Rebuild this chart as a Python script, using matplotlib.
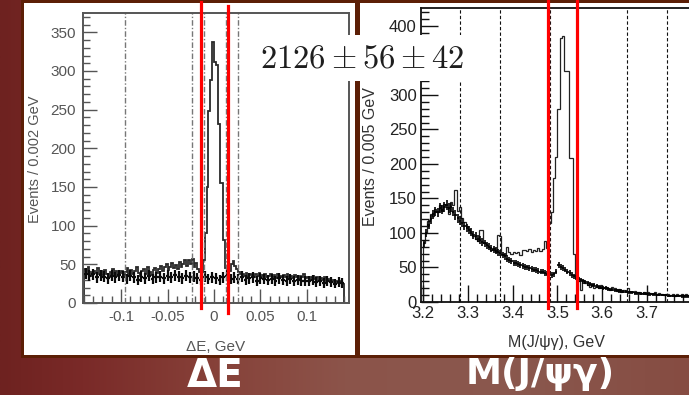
import numpy as np
import matplotlib
matplotlib.use("Agg")
import matplotlib.pyplot as plt
from matplotlib.patches import Rectangle
from matplotlib.ticker import MultipleLocator

plt.rcParams["mathtext.fontset"] = "cm"
plt.rcParams["font.family"] = ["Liberation Sans", "DejaVu Sans"]

# ---------------- data: left panel (Delta E, 0.002 GeV bins) ----------------
de_start, de_width = -0.140, 0.002
de_hist = [
    44, 38, 46, 40, 35, 42, 39, 45, 37, 41, 36, 43, 38, 33, 40, 44, 37, 41, 35, 39,
    42, 36, 40, 45, 38, 43, 37, 41, 46, 39, 35, 42, 44, 38, 47, 40, 36, 43, 45, 39,
    44, 48, 41, 46, 50, 43, 47, 52, 45, 49, 44, 53, 47, 51, 56,
    48, 55, 50, 57, 46, 52, 44, 40,
    40, 55, 90, 150, 248, 288, 337, 312, 308, 232, 155, 155, 82, 45,
    38, 42, 50, 54, 48, 44, 40, 38,
    37, 35, 39, 34, 38, 36, 33, 37, 35, 39, 34, 36, 38, 33, 35, 37, 34, 36, 32, 38, 35, 33, 36, 34, 37,
    33, 35, 32, 36, 34, 31, 35, 33, 37, 32, 34, 30, 33, 35, 31, 34, 29, 32, 30, 33, 28, 31, 29, 27, 30, 28, 26, 29, 27, 25,
]
de_pts_width = 0.004
de_pts = [
    38, 35, 37, 33, 36, 34, 32, 35, 33, 36,
    34, 31, 35, 33, 30, 34, 32, 35, 31, 33,
    34, 32, 35, 33, 36, 34, 32, 35, 33, 34,
    32, 30, 34, 31, 33, 32, 30, 33, 35, 31,
    33, 31, 34, 30, 32, 33, 29, 32, 31, 30,
    31, 29, 32, 30, 28, 31, 29, 30, 28, 29,
    28, 30, 27, 29, 26, 28, 27, 25, 27, 26,
]
de_dashed = [-0.096, -0.0237, -0.0108, 0.0129, 0.0258]
de_window = [-0.014, 0.015]
de_ticks = [-0.1, -0.05, 0, 0.05, 0.1]
de_ticklabels = ["-0.1", "-0.05", "0", "0.05", "0.1"]

# ---------------- data: right panel (M(J/psi gamma), 0.005 GeV bins) ----------------
m_start, m_width = 3.200, 0.005
m_hist = [
    85, 100, 118, 128, 125, 135, 130, 140, 132, 142,
    138, 128, 145, 140, 163, 132, 138, 122, 116, 110,
    106, 100, 96, 92, 88, 104, 104, 86, 82, 80,
    76, 78, 72, 97, 95, 70, 68, 80, 72, 70,
    72, 71, 73, 68, 76, 76, 74, 77, 73, 76,
    74, 78, 74, 77, 88, 78, 115, 130, 180, 210,
    280, 383, 385, 335, 335, 208, 208, 70, 38, 30,
    18, 32, 28, 25, 22, 24, 20, 22, 20, 24,
    20, 22, 20, 18, 22, 20, 16, 19, 15, 18,
    16, 20, 15, 14, 16, 14, 15, 13, 15, 12,
    14, 13, 12, 14, 11, 13, 12, 10, 12, 11,
    10, 12, 9, 11, 10, 12, 10, 11, 10, 10,
]
m_pts = [
    85, 100, 112, 120, 127, 131, 130, 136, 134, 138,
    140, 136, 137, 131, 126, 121, 118, 115, 110, 107,
    104, 101, 97, 96, 92, 90, 87, 85, 82, 80,
    78, 76, 74, 72, 71, 68, 66, 63, 61, 59,
    57, 56, 55, 53, 52, 51, 50, 49, 48, 47,
    46, 45, 44, 44, 42, 41, 41, 39, 40, 44,
    53, 51, 49, 47, 44, 42, 39, 37, 35, 33,
    32, 30, 29, 27, 26, 25, 24, 23, 22, 21,
    20, 20, 19, 18, 18, 17, 17, 16, 16, 15,
    15, 14, 14, 14, 13, 13, 13, 12, 12, 12,
    11, 11, 11, 11, 10, 10, 10, 10, 10, 9,
    9, 9, 9, 9, 9, 8, 8, 8, 8, 8,
]
m_dashed = [3.283, 3.372, 3.483, 3.544, 3.655, 3.745]
m_window = [3.479, 3.5437]
m_ticks = [3.2, 3.3, 3.4, 3.5, 3.6, 3.7]
m_ticklabels = ["3.2", "3.3", "3.4", "3.5", "3.6", "3.7"]

yield_text = r"$2126\pm56\pm42$"
left_label = "ΔE"
right_label = "M(J/ψγ)"

# ---------------- figure ----------------
W, H = 689, 395
fig = plt.figure(figsize=(W / 100, H / 100), dpi=100)

# background (pixel coordinates)
bg = fig.add_axes([0, 0, 1, 1], zorder=-10)
bg.set_xlim(0, W)
bg.set_ylim(H, 0)
bg.axis("off")
stops = np.array([0.0, 0.12, 0.3, 0.5, 0.75, 1.0])
cols = np.array([(110, 34, 32), (122, 42, 40), (134, 64, 56), (140, 84, 74), (138, 88, 78), (134, 76, 66)]) / 255
xs = np.linspace(0, 1, 400)
grad = np.stack([np.interp(xs, stops, cols[:, i]) for i in range(3)], axis=-1)[None, :, :]
bg.imshow(grad, extent=[0, W, H, 0], aspect="auto", interpolation="bilinear")
brown = "#5c1f06"
bg.add_patch(Rectangle((21, -2), W - 21 + 5, 360, facecolor=brown, edgecolor="none"))
bg.add_patch(Rectangle((24, 3), 331, 352, facecolor="white", edgecolor="none"))
bg.add_patch(Rectangle((360, 3), W - 360 + 5, 352, facecolor="white", edgecolor="none"))

# ---------------- left axes ----------------
axL = fig.add_axes([83 / W, 1 - 303 / H, 266 / W, 290 / H])
de_edges = de_start + de_width * np.arange(len(de_hist) + 1)
axL.stairs(de_hist, de_edges, color="#2a2a2a", lw=1.3)
de_c = de_start + de_pts_width * (np.arange(len(de_pts)) + 0.5)
axL.errorbar(de_c, de_pts, xerr=de_pts_width / 2, yerr=np.sqrt(de_pts) * 1.2,
             fmt="none", ecolor="#0a0a0a", elinewidth=1.6)
for v in de_dashed:
    axL.axvline(v, color="#777777", lw=1.0, ls=(0, (4, 1.5, 1, 1.5)))
axL.axvline(de_window[0], ymin=-0.017, ymax=1.038, color="#ff0000", lw=2.3, clip_on=False, zorder=20)
axL.axvline(de_window[1], ymin=-0.034, ymax=1.024, color="#ff0000", lw=2.3, clip_on=False, zorder=20)
axL.set_xlim(-0.1409, 0.1452)
axL.set_ylim(0, 375)
axL.xaxis.set_minor_locator(MultipleLocator(0.01))
axL.yaxis.set_major_locator(MultipleLocator(50))
axL.yaxis.set_minor_locator(MultipleLocator(10))
axL.set_xticks(de_ticks)
axL.set_xticklabels(de_ticklabels)
axL.tick_params(which="both", direction="in", top=False, right=False, color="#555555",
                labelcolor="#555555", labelsize=11, width=1.0)
axL.tick_params(which="major", length=10, pad=5)
axL.tick_params(which="minor", length=5)
for s in axL.spines.values():
    s.set_color("#555555")
    s.set_linewidth(1.4)
axL.set_xlabel("ΔE, GeV", fontsize=11, color="#555555", va="center")
axL.xaxis.set_label_coords(0.5, -0.152)
axL.set_ylabel("Events / 0.002 GeV", fontsize=10.5, color="#555555", va="center")
axL.yaxis.set_label_coords(-0.18, 0.497)

# ---------------- right axes ----------------
axR = fig.add_axes([421 / W, 1 - 302 / H, 271 / W, 294 / H])
m_edges = m_start + m_width * np.arange(len(m_hist) + 1)
axR.stairs(m_hist, m_edges, color="#222222", lw=0.9)
m_c = m_start + m_width * (np.arange(len(m_pts)) + 0.5)
axR.errorbar(m_c, m_pts, xerr=m_width / 2, yerr=np.sqrt(m_pts) * 0.6,
             fmt="none", ecolor="#000000", elinewidth=1.2)
for v in m_dashed:
    axR.axvline(v, color="#111111", lw=0.8, ls=(0, (3, 2)))
for v in m_window:
    axR.axvline(v, ymin=-0.02, ymax=1.03, color="#ff0000", lw=2.3, clip_on=False, zorder=20)
axR.set_xlim(3.1955, 3.8005)
axR.set_ylim(0, 426)
axR.set_xticks(m_ticks)
axR.set_xticklabels(m_ticklabels)
axR.xaxis.set_minor_locator(MultipleLocator(0.02))
axR.yaxis.set_major_locator(MultipleLocator(50))
axR.yaxis.set_minor_locator(MultipleLocator(10))
axR.tick_params(which="both", direction="in", top=False, right=False, color="#111111",
                labelcolor="#222222", labelsize=12, width=1.0)
axR.tick_params(which="major", length=12, pad=3)
axR.tick_params(which="minor", length=6)
for s in axR.spines.values():
    s.set_color("#111111")
    s.set_linewidth(1.3)
axR.set_xlabel("M(J/ψγ), GeV", fontsize=11.5, color="#333333", va="center")
axR.xaxis.set_label_coords(0.5, -0.139)
axR.set_ylabel("Events / 0.005 GeV", fontsize=11.5, color="#333333", va="center")
axR.yaxis.set_label_coords(-0.187, 0.493)

# ---------------- overlay ----------------
ov = fig.add_axes([0, 0, 1, 1], zorder=10)
ov.set_xlim(0, W)
ov.set_ylim(H, 0)
ov.axis("off")
ov.patch.set_alpha(0)
ov.add_patch(Rectangle((247, 35), 228, 46, facecolor="white", edgecolor="none"))
ov.text(362, 59, yield_text, fontsize=23.5, color="#1e1e1e", ha="center", va="center")
ov.text(215, 376, left_label, fontsize=28, color="white", fontweight="bold",
        family="DejaVu Sans", ha="center", va="center")
ov.text(540, 374, right_label, fontsize=26, color="white", fontweight="bold",
        family="DejaVu Sans", ha="center", va="center")

fig.savefig("out.png", dpi=100)
